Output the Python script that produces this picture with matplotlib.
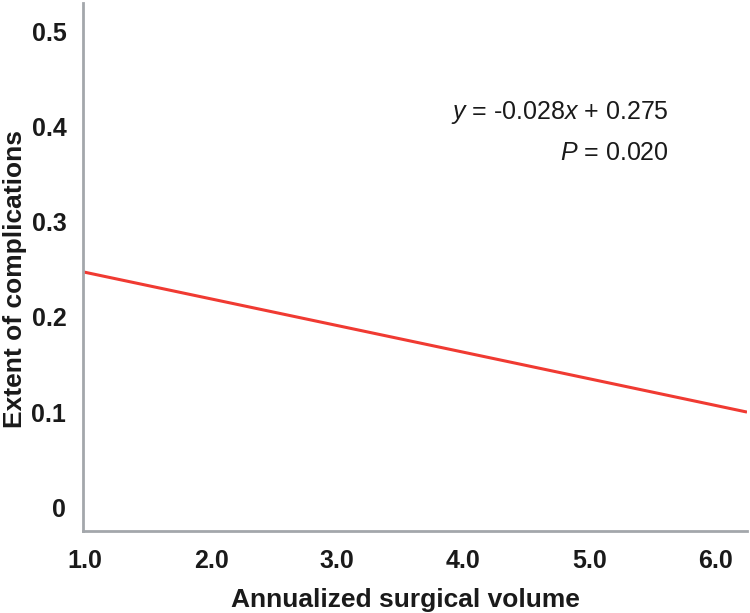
import matplotlib
matplotlib.use("Agg")
import matplotlib.pyplot as plt
import numpy as np

slope = -0.028
intercept = 0.275
x_range = [0.985, 6.25]
x_ticks = [1.0, 2.0, 3.0, 4.0, 5.0, 6.0]
y_ticks = [0, 0.1, 0.2, 0.3, 0.4, 0.5]
y_tick_labels = ["0", "0.1", "0.2", "0.3", "0.4", "0.5"]
eq_text = "$\\mathit{y}$ = -0.028$\\mathit{x}$ + 0.275"
p_text = "$\\mathit{P}$ = 0.020"

plt.rcParams['font.family'] = ['Liberation Sans', 'DejaVu Sans']
plt.rcParams['mathtext.fontset'] = 'custom'
plt.rcParams['mathtext.it'] = 'Liberation Sans:italic'
plt.rcParams['mathtext.rm'] = 'Liberation Sans'

fig = plt.figure(figsize=(7.5, 6.13), dpi=100)
ax = fig.add_axes([0.1107, 0.1338, 0.996 - 0.1107, 0.995 - 0.1338])

xs = np.array(x_range)
ax.plot(xs, intercept + slope * xs, color="#f03a32", lw=2.2, solid_capstyle="butt")

ax.set_xlim(x_range)
ax.set_ylim(-0.025, 0.53)
ax.set_xticks(x_ticks)
ax.set_xticklabels([f"{v:.1f}" for v in x_ticks])
ax.set_yticks(y_ticks)
ax.set_yticklabels(y_tick_labels)
ax.tick_params(length=0, labelsize=18)
ax.tick_params(axis="x", pad=13)
ax.tick_params(axis="y", pad=12)
for lbl in ax.get_xticklabels() + ax.get_yticklabels():
    lbl.set_fontweight("bold")
    lbl.set_color("#1a1a1a")

for s in ["top", "right"]:
    ax.spines[s].set_visible(False)
for s in ["left", "bottom"]:
    ax.spines[s].set_color("#a3a7ab")
    ax.spines[s].set_linewidth(2)

ax.set_xlabel("Annualized surgical volume", fontsize=19, fontweight="bold", color="#1a1a1a")
ax.set_ylabel("Extent of complications", fontsize=19, fontweight="bold", color="#1a1a1a")
ax.xaxis.set_label_coords(0.485, -0.108)
ax.yaxis.set_label_coords(-0.084, 0.477)

ax.text(0.882, 0.792, eq_text, transform=ax.transAxes, ha="right", va="center", fontsize=18, color="#1a1a1a")
ax.text(0.882, 0.716, p_text, transform=ax.transAxes, ha="right", va="center", fontsize=18, color="#1a1a1a")

fig.savefig("out.png", dpi=100)
